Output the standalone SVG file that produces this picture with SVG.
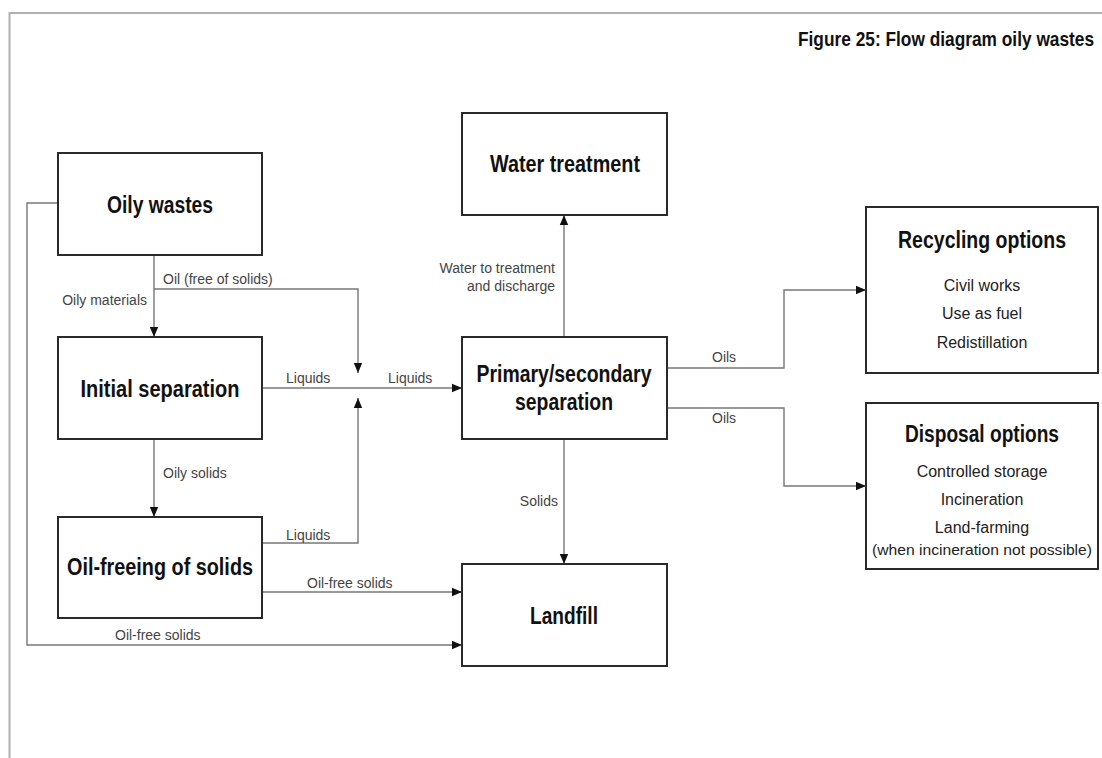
<svg xmlns="http://www.w3.org/2000/svg" width="1102" height="758" viewBox="0 0 1102 758">
<defs>
<marker id="arr" markerUnits="userSpaceOnUse" markerWidth="10" markerHeight="10" viewBox="0 0 10 10" refX="10" refY="5" orient="auto">
<path d="M0 0.8 L10 5 L0 9.2 Z" fill="#111"/>
</marker>
<style>
.box{fill:#fff;stroke:#2a2a2a;stroke-width:2}
.t{font-family:"Liberation Sans",Arial,sans-serif;font-weight:bold;fill:#111;text-anchor:middle}
.tn{font-size:23px}
.b{font-family:"Liberation Sans",Arial,sans-serif;font-size:16px;fill:#222;text-anchor:middle}
.l{font-family:"Liberation Sans",Arial,sans-serif;font-size:14px;fill:#444}
.c{fill:none;stroke:#777;stroke-width:1.4}
</style>
</defs>
<rect width="1102" height="758" fill="#fff"/>
<path d="M9.5 758 V13 H1102" fill="none" stroke="#b0b0b0" stroke-width="2"/>
<text x="0" y="0" class="t" transform="translate(798 46) scale(0.866 1)" style="text-anchor:start;font-size:20px">Figure 25: Flow diagram oily wastes</text>

<g id="connectors">
<path class="c" d="M154 255 V337" marker-end="url(#arr)"/>
<path class="c" d="M154 289 H358 V373" marker-end="url(#arr)"/>
<path class="c" d="M262 388 H462" marker-end="url(#arr)"/>
<path class="c" d="M262 543 H358 V398" marker-end="url(#arr)"/>
<path class="c" d="M154 439 V517" marker-end="url(#arr)"/>
<path class="c" d="M262 592 H462" marker-end="url(#arr)"/>
<path class="c" d="M58 203 H27 V645 H462" marker-end="url(#arr)"/>
<path class="c" d="M564 337 V215" marker-end="url(#arr)"/>
<path class="c" d="M564 439 V564" marker-end="url(#arr)"/>
<path class="c" d="M667 368 H784 V290 H866" marker-end="url(#arr)"/>
<path class="c" d="M667 408 H784 V486 H866" marker-end="url(#arr)"/>
<text class="l" x="163" y="284">Oil (free of solids)</text>
<text class="l" x="147" y="305" style="text-anchor:end">Oily materials</text>
<text class="l" x="286" y="383">Liquids</text>
<text class="l" x="388" y="383">Liquids</text>
<text class="l" x="163" y="478">Oily solids</text>
<text class="l" x="286" y="540">Liquids</text>
<text class="l" x="307" y="588">Oil-free solids</text>
<text class="l" x="115" y="640">Oil-free solids</text>
<text class="l" x="555" y="273" style="text-anchor:end">Water to treatment</text>
<text class="l" x="555" y="291" style="text-anchor:end">and discharge</text>
<text class="l" x="558" y="506" style="text-anchor:end">Solids</text>
<text class="l" x="712" y="362">Oils</text>
<text class="l" x="712" y="423">Oils</text>
</g>

<g id="oily-wastes">
<rect class="box" x="58" y="153" width="204" height="102"/>
<text class="t tn" x="160" y="213" textLength="106" lengthAdjust="spacingAndGlyphs">Oily wastes</text>
</g>
<g id="initial-separation">
<rect class="box" x="58" y="337" width="204" height="102"/>
<text class="t tn" x="160" y="397" textLength="159" lengthAdjust="spacingAndGlyphs">Initial separation</text>
</g>
<g id="oil-freeing">
<rect class="box" x="58" y="517" width="204" height="101"/>
<text class="t tn" x="160" y="575" textLength="186" lengthAdjust="spacingAndGlyphs">Oil-freeing of solids</text>
</g>
<g id="water-treatment">
<rect class="box" x="462" y="113" width="205" height="102"/>
<text class="t tn" x="565" y="172" textLength="150" lengthAdjust="spacingAndGlyphs">Water treatment</text>
</g>
<g id="primary-secondary">
<rect class="box" x="462" y="337" width="205" height="102"/>
<text class="t tn" x="564" y="382" textLength="175" lengthAdjust="spacingAndGlyphs">Primary/secondary</text>
<text class="t tn" x="564" y="410" textLength="98" lengthAdjust="spacingAndGlyphs">separation</text>
</g>
<g id="landfill">
<rect class="box" x="462" y="564" width="205" height="102"/>
<text class="t tn" x="564" y="624" textLength="68" lengthAdjust="spacingAndGlyphs">Landfill</text>
</g>
<g id="recycling-options">
<rect class="box" x="866" y="207" width="232" height="166"/>
<text class="t tn" x="982" y="248" textLength="168" lengthAdjust="spacingAndGlyphs">Recycling options</text>
<text class="b" x="982" y="291">Civil works</text>
<text class="b" x="982" y="319">Use as fuel</text>
<text class="b" x="982" y="348">Redistillation</text>
</g>
<g id="disposal-options">
<rect class="box" x="866" y="403" width="232" height="166"/>
<text class="t tn" x="982" y="442" textLength="154" lengthAdjust="spacingAndGlyphs">Disposal options</text>
<text class="b" x="982" y="477">Controlled storage</text>
<text class="b" x="982" y="505">Incineration</text>
<text class="b" x="982" y="533">Land-farming</text>
<text class="b" x="982" y="555" style="font-size:15px" textLength="220" lengthAdjust="spacingAndGlyphs">(when incineration not possible)</text>
</g>
</svg>
